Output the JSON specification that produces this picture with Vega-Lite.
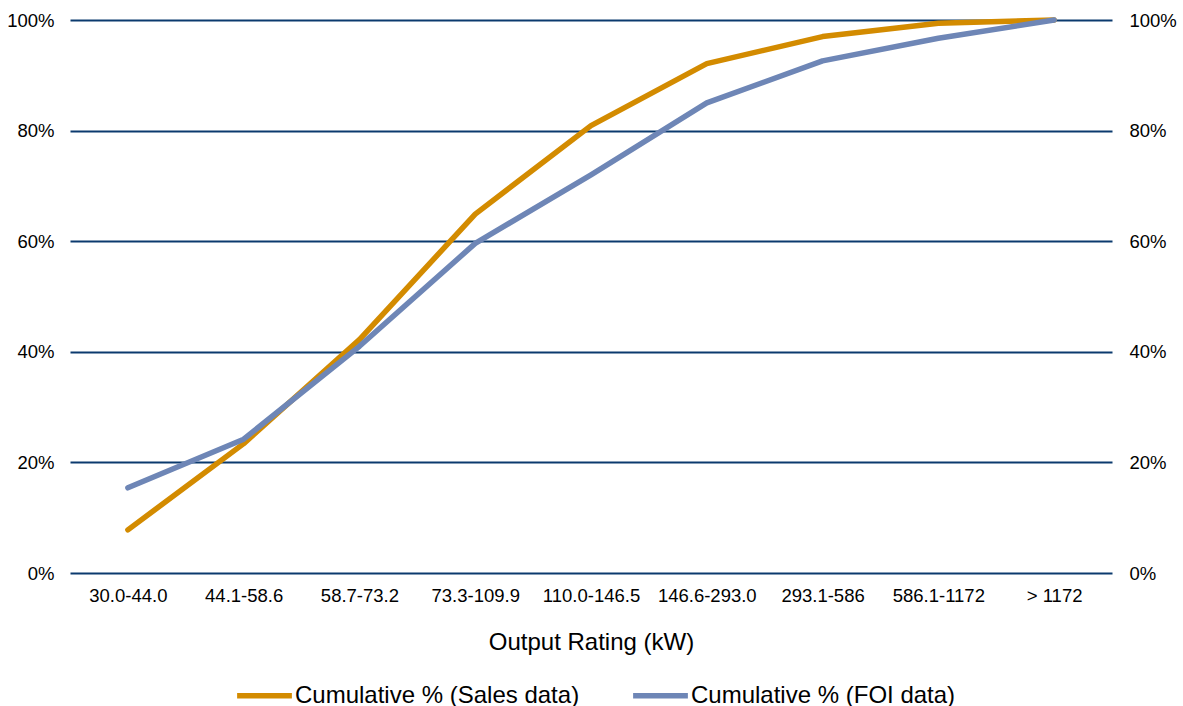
{
  "$schema": "https://vega.github.io/schema/vega-lite/v6.json",
  "autosize": {"type": "none"},
  "width": 1042,
  "height": 553,
  "padding": {"left": 70, "top": 20, "right": 71, "bottom": 133},
  "background": "white",
  "config": {
    "font": "Liberation Sans",
    "view": {"stroke": null}
  },
  "data": {
    "values": [
      {"rating": "30.0-44.0", "series": "Cumulative % (Sales data)", "value": 0.078},
      {"rating": "44.1-58.6", "series": "Cumulative % (Sales data)", "value": 0.234},
      {"rating": "58.7-73.2", "series": "Cumulative % (Sales data)", "value": 0.422},
      {"rating": "73.3-109.9", "series": "Cumulative % (Sales data)", "value": 0.649},
      {"rating": "110.0-146.5", "series": "Cumulative % (Sales data)", "value": 0.809},
      {"rating": "146.6-293.0", "series": "Cumulative % (Sales data)", "value": 0.921},
      {"rating": "293.1-586", "series": "Cumulative % (Sales data)", "value": 0.970},
      {"rating": "586.1-1172", "series": "Cumulative % (Sales data)", "value": 0.994},
      {"rating": "> 1172", "series": "Cumulative % (Sales data)", "value": 1.0},
      {"rating": "30.0-44.0", "series": "Cumulative % (FOI data)", "value": 0.154},
      {"rating": "44.1-58.6", "series": "Cumulative % (FOI data)", "value": 0.242},
      {"rating": "58.7-73.2", "series": "Cumulative % (FOI data)", "value": 0.410},
      {"rating": "73.3-109.9", "series": "Cumulative % (FOI data)", "value": 0.596},
      {"rating": "110.0-146.5", "series": "Cumulative % (FOI data)", "value": 0.720},
      {"rating": "146.6-293.0", "series": "Cumulative % (FOI data)", "value": 0.850},
      {"rating": "293.1-586", "series": "Cumulative % (FOI data)", "value": 0.926},
      {"rating": "586.1-1172", "series": "Cumulative % (FOI data)", "value": 0.967},
      {"rating": "> 1172", "series": "Cumulative % (FOI data)", "value": 1.0}
    ]
  },
  "encoding": {
    "x": {
      "field": "rating",
      "type": "ordinal",
      "sort": null,
      "scale": {"type": "point", "padding": 0.5},
      "axis": {
        "title": "Output Rating (kW)",
        "titleFont": "Liberation Sans",
        "titleFontSize": 24,
        "titleFontWeight": "normal",
        "titleColor": "#000000",
        "titlePadding": 26,
        "labelFontSize": 18.5,
        "labelColor": "#000000",
        "labelPadding": 13,
        "labelAngle": 0,
        "ticks": false,
        "domain": false,
        "grid": false
      }
    }
  },
  "layer": [
    {
      "mark": {"type": "line", "strokeWidth": 5.5, "strokeCap": "round", "strokeJoin": "round"},
      "encoding": {
        "y": {
          "field": "value",
          "type": "quantitative",
          "scale": {"domain": [0, 1]},
          "axis": {
            "title": null,
            "format": ".0%",
            "values": [0, 0.2, 0.4, 0.6, 0.8, 1.0],
            "labelFontSize": 18.5,
            "labelColor": "#000000",
            "labelPadding": 16,
            "ticks": false,
            "domain": false,
            "grid": true,
            "gridColor": "#0B3A6E",
            "gridWidth": 2,
            "gridOpacity": 1
          }
        },
        "color": {
          "field": "series",
          "type": "nominal",
          "scale": {
            "domain": ["Cumulative % (Sales data)", "Cumulative % (FOI data)"],
            "range": ["#D38B00", "#6E86B6"]
          },
          "legend": {
            "title": null,
            "orient": "none",
            "legendX": 164,
            "legendY": 645,
            "direction": "horizontal",
            "labelFontSize": 24,
            "labelColor": "#000000",
            "labelLimit": 500,
            "symbolType": "M-1,0H1",
            "symbolSize": 3000,
            "symbolStrokeWidth": 5.5,
            "symbolOpacity": 1,
            "symbolOffset": 0,
            "labelOffset": 0,
            "columnPadding": 42
          }
        }
      }
    },
    {
      "mark": {"type": "line", "opacity": 0},
      "encoding": {
        "y": {
          "field": "value",
          "type": "quantitative",
          "scale": {"domain": [0, 1]},
          "axis": {
            "orient": "right",
            "title": null,
            "format": ".0%",
            "values": [0, 0.2, 0.4, 0.6, 0.8, 1.0],
            "labelFontSize": 18.5,
            "labelColor": "#000000",
            "labelPadding": 17,
            "ticks": false,
            "domain": false,
            "grid": false
          }
        },
        "detail": {"field": "series"}
      }
    }
  ],
  "resolve": {"scale": {"y": "independent"}}
}
